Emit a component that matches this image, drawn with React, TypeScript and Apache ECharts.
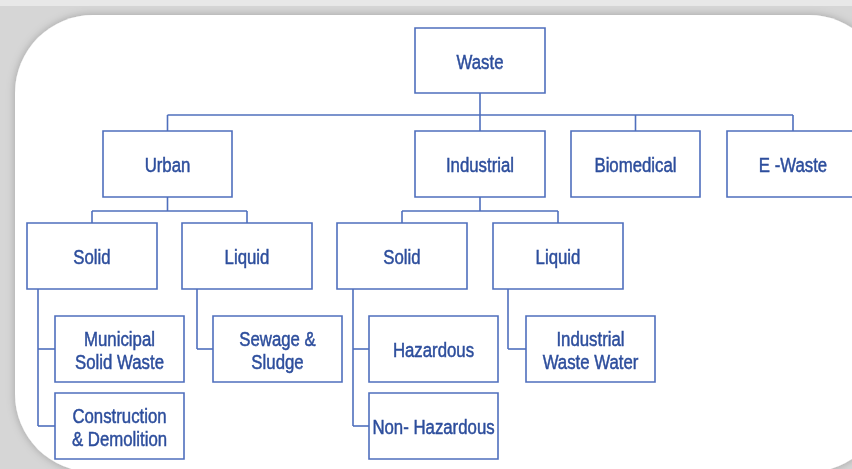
import React, { useEffect, useRef } from "react";
import * as echarts from "echarts";

// ---- data (labels of the hierarchy) ----
const rootLabel = "Waste";
const categoryLabels = ["Urban", "Industrial", "Biomedical", "E -Waste"];
const urbanStates = ["Solid", "Liquid"];
const industrialStates = ["Solid", "Liquid"];
const urbanSolidTypes = ["Municipal\nSolid Waste", "Construction\n& Demolition"];
const urbanLiquidTypes = ["Sewage &\nSludge"];
const industrialSolidTypes = ["Hazardous", "Non- Hazardous"];
const industrialLiquidTypes = ["Industrial\nWaste Water"];

// ---- layout (positions / sizes) ----
const ROOT_BOX = { x: 415, y: 28, w: 130, h: 65 };
const L1_Y = 131;
const L1_H = 66;
const L1_X = [103, 415, 571, 727];
const L1_W = [129, 130, 129, 132];
const BUS1_Y = 115;
const L2_Y = 223;
const L2_H = 66;
const L2_W = 130;
const L2_X: Record<string, number[]> = { Urban: [27, 182], Industrial: [337, 493] };
const BUS2_Y = 211;
const L3_Y = [316, 393];
const L3_H = 66;
const L3_W = 129;
const L3_X = [55, 213, 369, 526];
const BRACKET_OFF = [11, 15, 16, 15];

const LINE = "#4f6fbd";
const TEXT = "#2c4d9c";
const FONT = "21px 'Liberation Sans', Arial, sans-serif";
const SQUEEZE = 0.8;

type Box = { x: number; y: number; w: number; h: number; label: string };

export default function App() {
  const ref = useRef<HTMLDivElement>(null);
  useEffect(() => {
    if (!ref.current) return;
    const chart = echarts.init(ref.current, undefined, { renderer: "svg" });

    const boxes: Box[] = [];
    const lines: number[][][] = [];

    const root: Box = { ...ROOT_BOX, label: rootLabel };
    boxes.push(root);
    const cx = (b: Box) => b.x + b.w / 2;

    const l1: Box[] = categoryLabels.map((label, i) => ({ x: L1_X[i], y: L1_Y, w: L1_W[i], h: L1_H, label }));
    boxes.push(...l1);
    lines.push([[cx(root), root.y + root.h], [cx(root), BUS1_Y]]);
    lines.push([[cx(l1[0]), BUS1_Y], [cx(l1[l1.length - 1]), BUS1_Y]]);
    l1.forEach((b) => lines.push([[cx(b), BUS1_Y], [cx(b), b.y]]));

    const stateSets: Record<string, string[]> = { Urban: urbanStates, Industrial: industrialStates };
    const childSets: string[][] = [urbanSolidTypes, urbanLiquidTypes, industrialSolidTypes, industrialLiquidTypes];
    let k = 0;
    ["Urban", "Industrial"].forEach((cat) => {
      const parent = l1[categoryLabels.indexOf(cat)];
      const states = stateSets[cat];
      const l2: Box[] = states.map((label, i) => ({ x: L2_X[cat][i], y: L2_Y, w: L2_W, h: L2_H, label }));
      boxes.push(...l2);
      lines.push([[cx(parent), parent.y + parent.h], [cx(parent), BUS2_Y]]);
      lines.push([[cx(l2[0]), BUS2_Y], [cx(l2[l2.length - 1]), BUS2_Y]]);
      l2.forEach((b) => {
        lines.push([[cx(b), BUS2_Y], [cx(b), b.y]]);
        const kids = childSets[k];
        const bx = b.x + BRACKET_OFF[k];
        const kidBoxes: Box[] = kids.map((label, j) => ({ x: L3_X[k], y: L3_Y[j], w: L3_W, h: L3_H, label }));
        boxes.push(...kidBoxes);
        const lastMid = kidBoxes[kidBoxes.length - 1].y + L3_H / 2;
        lines.push([[bx, b.y + b.h], [bx, lastMid]]);
        kidBoxes.forEach((kb) => lines.push([[bx, kb.y + L3_H / 2], [kb.x, kb.y + L3_H / 2]]));
        k++;
      });
    });

    const graphic: any[] = [
      { type: "rect", shape: { x: 0, y: 0, width: 852, height: 469 }, style: { fill: "#d6d6d6" }, z: 0 },
      { type: "rect", shape: { x: 0, y: 0, width: 852, height: 6 }, style: { fill: "#e8e8e8" }, z: 0 },
      {
        type: "rect",
        shape: { x: 15, y: 15, width: 872, height: 457, r: 78 },
        style: { fill: "#ffffff", shadowColor: "rgba(0,0,0,0.25)", shadowBlur: 8 },
        z: 1,
      },
    ];
    lines.forEach((pts) =>
      graphic.push({ type: "polyline", shape: { points: pts }, style: { stroke: LINE, lineWidth: 1.6, fill: null }, z: 2 })
    );
    boxes.forEach((b) => {
      graphic.push({
        type: "rect",
        shape: { x: b.x, y: b.y, width: b.w, height: b.h },
        style: { fill: "#ffffff", stroke: LINE, lineWidth: 1.6 },
        z: 3,
      });
      graphic.push({
        type: "text",
        x: b.x + b.w / 2,
        y: b.y + b.h / 2 + 1,
        scaleX: SQUEEZE,
        style: {
          text: b.label,
          align: "center",
          verticalAlign: "middle",
          font: FONT,
          lineHeight: 23,
          fill: TEXT,
          stroke: TEXT,
          lineWidth: 0.5,
        },
        z: 4,
      });
    });

    chart.setOption({ animation: false, graphic });
    return () => chart.dispose();
  }, []);
  return <div ref={ref} style={{ position: "fixed", left: 0, top: 0, width: 852, height: 469 }} />;
}
